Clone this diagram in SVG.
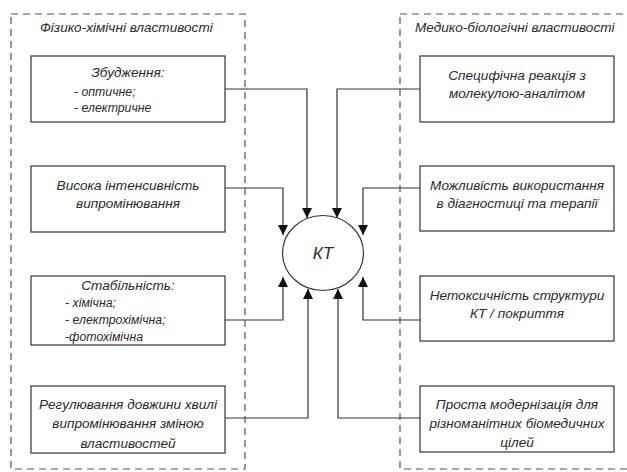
<svg xmlns="http://www.w3.org/2000/svg" width="627" height="472" viewBox="0 0 627 472">
<style>
text{font-family:"Liberation Sans",Arial,sans-serif;font-style:italic;fill:#2a2a2a}
.t{font-size:13.6px;text-anchor:middle}
.s{font-size:12.3px}
.h{font-size:13.6px}
.box{fill:#fff;stroke:#333;stroke-width:1.2}
.grp{fill:none;stroke:#555;stroke-width:1.2;stroke-dasharray:7 5}
.c{fill:none;stroke:#333;stroke-width:1.2}
</style>
<defs>
<marker id="ah" markerUnits="userSpaceOnUse" markerWidth="10" markerHeight="12" viewBox="0 0 10 12" refX="10" refY="6" orient="auto">
<path d="M0,1 L10,6 L0,11 Z" fill="#111"/>
</marker>
</defs>
<g id="group-left">
<rect class="grp" x="11" y="14" width="234" height="455"/>
<text class="h" x="40" y="32">Фізико-хімічні властивості</text>
</g>
<g id="group-right">
<rect class="grp" x="400" y="14" width="240" height="455"/>
<text class="h" x="415" y="32">Медико-біологічні властивості</text>
</g>
<g id="connectors">
<path class="c" d="M225,89 H307 V218" marker-end="url(#ah)"/>
<path class="c" d="M420,89 H337 V218" marker-end="url(#ah)"/>
<path class="c" d="M225,188 H283 V235" marker-end="url(#ah)"/>
<path class="c" d="M420,188 H363 V235" marker-end="url(#ah)"/>
<path class="c" d="M225,320 H283 V277" marker-end="url(#ah)"/>
<path class="c" d="M420,320 H363 V277" marker-end="url(#ah)"/>
<path class="c" d="M225,418 H308 V289" marker-end="url(#ah)"/>
<path class="c" d="M420,418 H338 V289" marker-end="url(#ah)"/>
</g>
<g id="kt">
<ellipse cx="323" cy="253" rx="40.5" ry="37.5" fill="#fff" stroke="#333" stroke-width="1.2"/>
<text x="323" y="259" font-size="17" text-anchor="middle">КТ</text>
</g>
<g id="excitation">
<rect class="box" x="31" y="56" width="194" height="66"/>
<text class="t" x="128" y="77">Збудження:</text>
<text class="s" x="74" y="96">- оптичне;</text>
<text class="s" x="74" y="112">- електричне</text>
</g>
<g id="intensity">
<rect class="box" x="31" y="166" width="194" height="66"/>
<text class="t" x="128" y="190">Висока інтенсивність</text>
<text class="t" x="128" y="208">випромінювання</text>
</g>
<g id="stability">
<rect class="box" x="31" y="276" width="194" height="69"/>
<text class="t" x="128" y="290">Стабільність:</text>
<text class="s" x="65" y="307">- хімічна;</text>
<text class="s" x="65" y="324">- електрохімічна;</text>
<text class="s" x="65" y="341">-фотохімічна</text>
</g>
<g id="wavelength">
<rect class="box" x="31" y="386" width="194" height="67"/>
<text class="t" x="128" y="409">Регулювання довжини хвилі</text>
<text class="t" x="128" y="428">випромінювання зміною</text>
<text class="t" x="128" y="448">властивостей</text>
</g>
<g id="specific">
<rect class="box" x="420" y="56" width="194" height="66"/>
<text class="t" x="517" y="80">Специфічна реакція з</text>
<text class="t" x="517" y="98">молекулою-аналітом</text>
</g>
<g id="diagnostics">
<rect class="box" x="420" y="166" width="194" height="65"/>
<text class="t" x="517" y="190">Можливість використання</text>
<text class="t" x="517" y="208">в діагностиці та терапії</text>
</g>
<g id="nontoxic">
<rect class="box" x="420" y="276" width="194" height="65"/>
<text class="t" x="517" y="300">Нетоксичність структури</text>
<text class="t" x="517" y="318">КТ / покриття</text>
</g>
<g id="modernization">
<rect class="box" x="420" y="386" width="194" height="66"/>
<text class="t" x="517" y="409">Проста модернізація для</text>
<text class="t" x="517" y="428">різноманітних біомедичних</text>
<text class="t" x="517" y="447">цілей</text>
</g>
</svg>
